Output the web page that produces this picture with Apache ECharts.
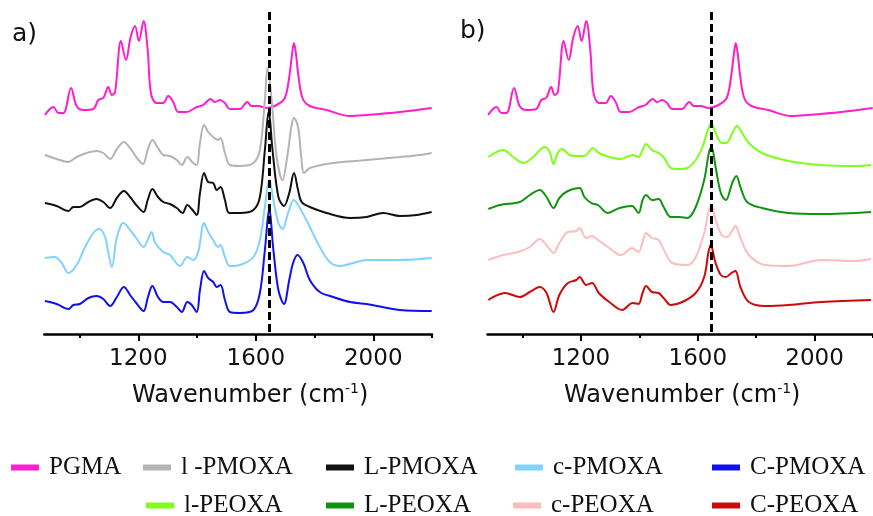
<!DOCTYPE html>
<html>
<head>
<meta charset="utf-8">
<script src="https://cdn.jsdelivr.net/npm/echarts@6/dist/echarts.min.js"></script>
<style>
  html, body { margin: 0; padding: 0; background: #ffffff; }
  #chart { width: 873px; height: 516px; }
</style>
</head>
<body>
<div id="chart"></div>
<script>
// FTIR spectra, offset absorbance (a.u.) vs wavenumber (cm-1)
const waveMin = 880;
const waveMax = 2200;
const majorTicks = [1200, 1600, 2000];
const minorTicks = [1000, 1400, 1800, 2200];
const amideBand = 1646;           // dashed reference line (cm-1)
const amideBandSpan = [0, 3.22];  // vertical extent of the reference line

// [wavenumber, offset absorbance]
const pgma = [[882,2.19],[911,2.27],[928,2.21],[945,2.21],[971,2.46],[990,2.28],[1013,2.24],[1047,2.25],
  [1064,2.34],[1081,2.36],[1098,2.47],[1110,2.39],[1121,2.42],[1141,2.93],[1158,2.74],[1174,2.97],
  [1189,3.08],[1202,2.93],[1218,3.13],[1232,2.84],[1243,2.41],[1262,2.31],[1285,2.31],[1302,2.38],
  [1319,2.32],[1336,2.22],[1365,2.22],[1399,2.27],[1421,2.29],[1446,2.35],[1461,2.32],[1478,2.34],
  [1495,2.31],[1512,2.25],[1546,2.25],[1571,2.32],[1586,2.28],[1609,2.28],[1637,2.26],[1671,2.29],
  [1699,2.36],[1714,2.57],[1722,2.76],[1730,2.91],[1737,2.80],[1744,2.61],[1759,2.36],[1784,2.28],
  [1841,2.24],[1921,2.18],[1977,2.19],[2091,2.22],[2199,2.26]];

const lPMOXA = [[882,1.79],[922,1.75],[962,1.72],[990,1.77],[1024,1.81],[1058,1.83],[1081,1.81],[1104,1.75],
  [1127,1.85],[1151,1.92],[1172,1.86],[1193,1.77],[1216,1.70],[1232,1.84],[1248,1.94],[1267,1.86],
  [1285,1.79],[1308,1.78],[1331,1.74],[1348,1.69],[1367,1.77],[1387,1.71],[1399,1.69],[1410,1.91],
  [1424,2.09],[1438,2.02],[1455,1.97],[1472,1.94],[1480,1.96],[1495,1.81],[1512,1.69],[1546,1.68],
  [1592,1.71],[1614,1.84],[1631,2.34],[1640,2.66],[1654,2.34],[1671,1.77],[1691,1.54],[1707,1.77],
  [1722,2.09],[1730,2.16],[1744,2.07],[1756,1.74],[1764,1.61],[1784,1.66],[1864,1.71],[1977,1.74],
  [2091,1.77],[2159,1.79],[2199,1.81]];

const LPMOXA = [[882,1.31],[922,1.28],[962,1.23],[979,1.27],[1001,1.27],[1030,1.32],[1058,1.35],[1081,1.32],
  [1104,1.26],[1127,1.36],[1151,1.43],[1172,1.37],[1193,1.29],[1218,1.22],[1232,1.34],[1248,1.45],
  [1267,1.37],[1285,1.32],[1308,1.30],[1331,1.26],[1351,1.21],[1367,1.29],[1382,1.25],[1399,1.19],
  [1410,1.41],[1424,1.61],[1438,1.52],[1455,1.51],[1467,1.44],[1480,1.47],[1495,1.34],[1510,1.21],
  [1546,1.21],[1592,1.24],[1614,1.37],[1631,1.84],[1644,2.23],[1657,1.84],[1677,1.37],[1696,1.28],
  [1714,1.41],[1730,1.61],[1744,1.44],[1756,1.32],[1784,1.27],[1841,1.21],[1921,1.16],[1977,1.17],
  [2034,1.21],[2091,1.18],[2148,1.19],[2199,1.22]];

const cPMOXA = [[882,0.76],[916,0.77],[939,0.71],[962,0.61],[990,0.69],[1019,0.87],[1047,1.01],[1067,1.05],
  [1087,0.97],[1098,0.81],[1110,0.67],[1125,0.94],[1141,1.09],[1149,1.11],[1172,1.04],[1193,0.96],
  [1218,0.87],[1232,0.94],[1245,1.02],[1258,0.91],[1285,0.82],[1308,0.79],[1342,0.68],[1367,0.77],
  [1387,0.74],[1404,0.82],[1424,1.11],[1438,1.02],[1455,0.94],[1472,0.87],[1480,0.89],[1495,0.77],
  [1512,0.68],[1546,0.69],[1592,0.77],[1614,0.94],[1631,1.27],[1646,1.54],[1660,1.34],[1677,1.11],
  [1691,1.05],[1710,1.21],[1730,1.34],[1750,1.26],[1784,1.07],[1818,0.87],[1852,0.72],[1887,0.68],
  [1932,0.71],[1977,0.74],[2091,0.74],[2199,0.76]];

const CPMOXA = [[882,0.33],[922,0.30],[962,0.25],[979,0.29],[1001,0.30],[1030,0.36],[1058,0.38],[1081,0.35],
  [1104,0.28],[1127,0.37],[1151,0.47],[1172,0.39],[1193,0.31],[1218,0.23],[1232,0.36],[1248,0.48],
  [1267,0.37],[1285,0.32],[1308,0.32],[1331,0.27],[1348,0.22],[1367,0.32],[1382,0.29],[1399,0.22],
  [1410,0.44],[1424,0.63],[1438,0.56],[1455,0.52],[1467,0.47],[1480,0.49],[1495,0.34],[1512,0.22],
  [1546,0.21],[1592,0.24],[1614,0.41],[1631,0.84],[1646,1.24],[1660,0.84],[1677,0.44],[1696,0.30],
  [1714,0.54],[1727,0.71],[1742,0.79],[1762,0.71],[1784,0.54],[1818,0.42],[1864,0.37],[1921,0.32],
  [1977,0.30],[2091,0.24],[2199,0.23]];

const lPEOXA = [[883,1.77],[934,1.84],[968,1.77],[1002,1.71],[1036,1.77],[1076,1.87],[1093,1.82],[1106,1.70],
  [1120,1.81],[1135,1.85],[1161,1.79],[1184,1.78],[1212,1.78],[1241,1.86],[1261,1.81],[1297,1.77],
  [1337,1.75],[1377,1.79],[1397,1.77],[1411,1.84],[1423,1.90],[1443,1.84],[1466,1.81],[1483,1.77],
  [1508,1.66],[1536,1.65],[1565,1.66],[1593,1.74],[1616,1.87],[1638,2.07],[1647,2.10],[1661,2.01],
  [1682,1.91],[1697,1.91],[1720,2.02],[1734,2.08],[1752,2.01],[1775,1.91],[1820,1.81],[1911,1.73],
  [2024,1.69],[2138,1.68],[2193,1.69]];

const LPEOXA = [[883,1.25],[923,1.29],[991,1.32],[1025,1.39],[1059,1.44],[1082,1.37],[1106,1.26],[1126,1.36],
  [1155,1.43],[1195,1.46],[1212,1.37],[1235,1.31],[1258,1.29],[1292,1.21],[1332,1.26],[1375,1.28],
  [1397,1.21],[1411,1.34],[1423,1.39],[1443,1.34],[1466,1.35],[1483,1.27],[1508,1.17],[1536,1.17],
  [1565,1.16],[1593,1.27],[1622,1.54],[1638,1.81],[1647,1.87],[1661,1.67],[1679,1.41],[1696,1.34],
  [1718,1.51],[1732,1.58],[1746,1.47],[1769,1.32],[1820,1.26],[1911,1.21],[2024,1.20],[2193,1.22]];

const cPEOXA = [[883,0.74],[934,0.79],[985,0.82],[1025,0.87],[1059,0.95],[1082,0.89],[1106,0.81],[1126,0.91],
  [1155,1.02],[1184,1.03],[1195,1.06],[1218,0.96],[1238,0.98],[1258,0.94],[1297,0.86],[1337,0.79],
  [1375,0.86],[1397,0.82],[1411,0.92],[1423,1.01],[1443,0.96],[1466,0.94],[1489,0.81],[1513,0.71],
  [1565,0.69],[1593,0.77],[1622,1.01],[1636,1.21],[1647,1.29],[1661,1.14],[1682,0.99],[1701,0.97],
  [1715,1.02],[1729,1.08],[1746,0.96],[1775,0.79],[1831,0.69],[1911,0.68],[2024,0.74],[2138,0.73],
  [2193,0.75]];

const CPEOXA = [[883,0.34],[900,0.37],[940,0.41],[991,0.37],[1025,0.42],[1059,0.47],[1082,0.41],[1106,0.22],
  [1126,0.39],[1155,0.51],[1184,0.54],[1195,0.57],[1218,0.49],[1238,0.51],[1261,0.41],[1297,0.32],
  [1341,0.24],[1377,0.31],[1397,0.30],[1411,0.41],[1423,0.48],[1443,0.42],[1466,0.41],[1483,0.36],
  [1508,0.29],[1547,0.32],[1593,0.41],[1622,0.57],[1636,0.81],[1644,0.89],[1661,0.71],[1679,0.59],
  [1696,0.57],[1715,0.61],[1729,0.63],[1746,0.47],[1775,0.32],[1831,0.28],[1911,0.29],[2024,0.32],
  [2193,0.34]];

const panelA = [
  { name: 'PGMA',     color: '#ff1ecb', data: pgma },
  { name: 'l -PMOXA', color: '#b4b4b4', data: lPMOXA },
  { name: 'L-PMOXA',  color: '#111111', data: LPMOXA },
  { name: 'c-PMOXA',  color: '#82d2ff', data: cPMOXA },
  { name: 'C-PMOXA',  color: '#1010ee', data: CPMOXA }
];
const panelB = [
  { name: 'PGMA',     color: '#ff1ecb', data: pgma },
  { name: 'l-PEOXA',  color: '#80ff1a', data: lPEOXA },
  { name: 'L-PEOXA',  color: '#109410', data: LPEOXA },
  { name: 'c-PEOXA',  color: '#ffbcbe', data: cPEOXA },
  { name: 'C-PEOXA',  color: '#cc0a0a', data: CPEOXA }
];

// legend entries: name, swatch left edge, row
const legendRow1 = [['PGMA', 11], ['l -PMOXA', 143], ['L-PMOXA', 326], ['c-PMOXA', 515], ['C-PMOXA', 712]];
const legendRow2 = [['l-PEOXA', 146], ['L-PEOXA', 326], ['c-PEOXA', 513], ['C-PEOXA', 712]];

const FONT = 'DejaVu Sans';

function majorAxis(gridIndex, namePad) {
  return {
    type: 'value', gridIndex: gridIndex, min: waveMin, max: waveMax, position: 'bottom',
    axisLine: { show: true, lineStyle: { color: '#000', width: 2.5 } },
    axisTick: { show: true, customValues: majorTicks, length: 7, lineStyle: { color: '#000', width: 2 } },
    axisLabel: {
      show: true, customValues: majorTicks, margin: 14, fontFamily: FONT, fontSize: 23, color: '#111',
      formatter: v => String(v)
    },
    splitLine: { show: false },
    name: '{t|Wavenumber (cm}{s|-1}{t|)}',
    nameLocation: 'middle',
    nameGap: 48,
    nameTextStyle: {
      padding: [0, 0, 0, namePad],
      rich: {
        t: { fontFamily: FONT, fontSize: 24, lineHeight: 28, color: '#111' },
        s: { fontFamily: FONT, fontSize: 14, lineHeight: 14, verticalAlign: 'top', color: '#111' }
      }
    }
  };
}
function minorAxis(gridIndex) {
  return {
    type: 'value', gridIndex: gridIndex, min: waveMin, max: waveMax, position: 'bottom',
    axisLine: { show: false },
    axisTick: { show: true, customValues: minorTicks, length: 4, lineStyle: { color: '#000', width: 2 } },
    axisLabel: { show: false },
    splitLine: { show: false }
  };
}
function yAxis(gridIndex) {
  return { type: 'value', gridIndex: gridIndex, min: 0, max: 3.3, show: false, splitLine: { show: false } };
}

function spectrum(s, xi, yi) {
  return {
    type: 'line', name: s.name, xAxisIndex: xi, yAxisIndex: yi, data: s.data,
    showSymbol: false, smooth: 0.35, color: s.color,
    lineStyle: { color: s.color, width: 2 }, emphasis: { disabled: true }, silent: true
  };
}
function bandLine(xi, yi) {
  return {
    type: 'line', xAxisIndex: xi, yAxisIndex: yi, data: [], z: 10, silent: true,
    markLine: {
      silent: true, symbol: ['none', 'none'], label: { show: false },
      lineStyle: { color: '#000', width: 3, type: [8, 4] },
      data: [[{ coord: [amideBand, amideBandSpan[1]] }, { coord: [amideBand, amideBandSpan[0]] }]]
    }
  };
}

const legends = [];
legendRow1.forEach(([n, x]) => legends.push({ row: 0, n, x }));
legendRow2.forEach(([n, x]) => legends.push({ row: 1, n, x }));

const option = {
  animation: false,
  backgroundColor: '#ffffff',
  grid: [
    { left: 44.3, top: 4, width: 387.7, height: 330 },
    { left: 487.5, top: 4, width: 387.7, height: 330 }
  ],
  xAxis: [majorAxis(0, 24), minorAxis(0), majorAxis(1, 4), minorAxis(1)],
  yAxis: [yAxis(0), yAxis(1)],
  legend: legends.map(l => ({
    data: [l.n], left: l.x, top: l.row === 0 ? 455 : 493, padding: 0,
    selectedMode: false, icon: 'rect', itemWidth: 28, itemHeight: 6,
    textStyle: { fontFamily: 'Liberation Serif', fontSize: 25, color: '#111', padding: [0, 0, 0, 5] }
  })),
  graphic: [
    { type: 'text', left: 12, top: 22, style: { text: 'a)', font: '25px "DejaVu Sans"', fill: '#111' } },
    { type: 'text', left: 460, top: 19, style: { text: 'b)', font: '25px "DejaVu Sans"', fill: '#111' } }
  ],
  series: [
    ...panelA.map(s => spectrum(s, 0, 0)),
    bandLine(0, 0),
    ...panelB.map(s => spectrum(s, 2, 1)),
    bandLine(2, 1)
  ]
};

const chart = echarts.init(document.getElementById('chart'), null, { renderer: 'canvas' });
chart.setOption(option);
</script>
</body>
</html>
